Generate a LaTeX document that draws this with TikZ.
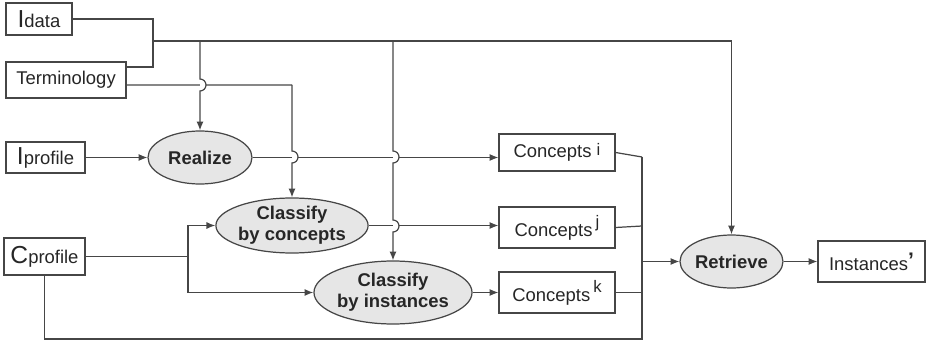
\documentclass[tikz,border=0pt]{standalone}
\usepackage{fontspec}
\setmainfont{Liberation Sans}
\usetikzlibrary{arrows.meta}
\usetikzlibrary{shapes.geometric, math}
\definecolor{lnclr}{RGB}{70, 70, 70}
\definecolor{elfill}{RGB}{230, 230, 230}
\newcommand{\bigini}[1]{{\fontsize{14}{14}\selectfont #1}}
\newcommand{\supidx}[2]{\raisebox{#1}{\fontsize{9.5}{9.5}\selectfont #2}}

\tikzset{
  line/.style={draw=lnclr, line width=0.7pt},
  arr/.style={line, -{Latex[length=5pt,width=4pt]}},
  box/.style={draw=lnclr, line width=0.7pt, rectangle, inner sep=0pt,
    font=\fontsize{10.5}{12}\selectfont, text=black!85},
  proc/.style={draw=lnclr, line width=0.7pt, ellipse, fill=elfill, inner sep=0pt,
    align=center, font=\fontsize{10.5}{12}\selectfont\bfseries, text=black!85},
}

\begin{document}
\begin{tikzpicture}[x=0.02cm, y=0.02cm]
\tikzmath{
\r=0.12;
}
\useasboundingbox (0,0) rectangle (927,342);

%%%%%%%%%% inputs
\node[box, minimum width=1.32cm, minimum height=0.64cm] (idata) at (39,323) {\bigini{I}data};
\node[box, minimum width=2.40cm, minimum height=0.72cm] (term) at (66,262) {Terminology};
\node[box, minimum width=1.58cm, minimum height=0.62cm] (iprof) at (45.5,184.5) {\bigini{I}profile};
\node[box, minimum width=1.62cm, minimum height=0.74cm] (cprof) at (44.5,85.5) {\bigini{C}profile};

%%%%%%%%%% processes
\node[proc, minimum width=2.08cm, minimum height=1.06cm] (real) at (200,184.5) {Realize};
\node[proc, minimum width=2.98cm, minimum height=1.10cm] (ccon) at (292,116.5) {Classify\\by concepts};
\node[proc, minimum width=3.08cm, minimum height=1.26cm] (cins) at (393,49.5) {Classify\\by instances};
\node[proc, minimum width=2.06cm, minimum height=1.06cm] (retr) at (731.5,80.5) {Retrieve};

%%%%%%%%%% results
\node[box, minimum width=2.32cm, minimum height=0.74cm] (ci) at (557,189.5) {Concepts\ \supidx{0.25ex}{i}};
\node[box, minimum width=2.32cm, minimum height=0.82cm] (cj) at (557,114.5) {Concepts\,\supidx{0.9ex}{j}};
\node[box, minimum width=2.32cm, minimum height=0.82cm] (ck) at (557,49.5) {Concepts\,\supidx{0.9ex}{k}};
\node[box, minimum width=2.14cm, minimum height=0.82cm] (inst) at (871.5,80.5) {Instances\raisebox{0.3ex}{\fontsize{12}{12}\selectfont\bfseries'}};

\coordinate (brk) at (153,275);
\coordinate (busL) at (153,301);
\coordinate (busR) at (731.5,301);
\coordinate (split) at (188,85.5);
\coordinate (busT) at (642,185);
\coordinate (busB) at (642,3);

%%%%%%%%%% horizontal flow
\draw[line] (idata.east) -| (brk) -- (brk -| term.east);
\draw[line] (busL) -- (busR);
\draw[arr] (iprof) -- (real);
\draw[arr] (real.east) -- (real.east -| ci.west);
\draw[arr] (ccon.east) -- (ccon.east -| cj.west);
\draw[arr] (cins) -- (ck);
\draw[line] (cprof.east) -- (split);
\draw[arr] (split) |- (ccon.west);
\draw[arr] (split) |- (cins.west);
\draw[line] ([yshift=-0.1cm]term.east) -- (292,257);

%%%%%%%%%% hops over the horizontals
\foreach \hx/\hy in {200/257, 292/185, 393/185, 393/116}
  \fill[white] (\hx,\hy+6) arc[start angle=90, end angle=-90, radius=\r cm] -- cycle;

%%%%%%%%%% vertical flow
\draw[arr] (real.north |- busL) -- (200,263) arc[start angle=90, end angle=-90, radius=\r cm] -- (real.north);
\draw[arr] (292,257) -- (292,191) arc[start angle=90, end angle=-90, radius=\r cm] -- (ccon.north);
\draw[arr] (cins.north |- busL) -- (393,191) arc[start angle=90, end angle=-90, radius=\r cm]
  -- (393,122) arc[start angle=90, end angle=-90, radius=\r cm] -- (cins.north);
\draw[arr] (busR) -- (retr.north);

%%%%%%%%%% collect results
\draw[line] (ci.east) -- (busT);
\draw[line] (cj.east) -- (642,116);
\draw[line] (ck.east) -- (ck.east -| busB);
\draw[line] (cprof.south) |- (busB) -- (busT);
\draw[arr] (retr.west -| busB) -- (retr.west);
\draw[arr] (retr) -- (inst);
\end{tikzpicture}
\end{document}
